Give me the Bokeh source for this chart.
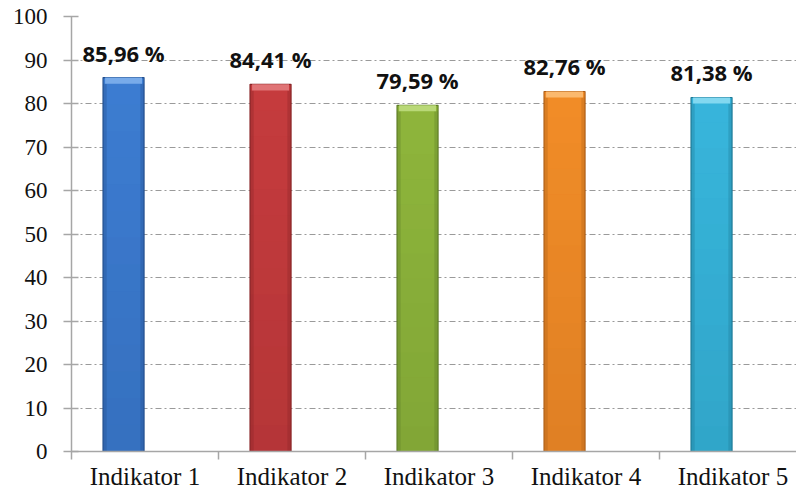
import numpy as np
from bokeh.plotting import figure
from bokeh.models import Range1d, FixedTicker, ColumnDataSource
from bokeh.core.properties import value
from bokeh.embed import file_html
from bokeh.resources import INLINE

# ---- data ----
categories = ["Indikator 1", "Indikator 2", "Indikator 3", "Indikator 4", "Indikator 5"]
values = [85.96, 84.41, 79.59, 82.76, 81.38]
value_labels = ["85,96 %", "84,41 %", "79,59 %", "82,76 %", "81,38 %"]
y_ticks = [0, 10, 20, 30, 40, 50, 60, 70, 80, 90, 100]

fill_colors = ["#3d7dd2", "#c63c3e", "#8fb63c", "#f28d28", "#38b6dc"]
dark_colors = ["#24508f", "#8a2628", "#5f7e28", "#b0601a", "#1f7c98"]
light_colors = ["#78abea", "#e07476", "#b9d877", "#fbb96e", "#82d8f0"]

SERIF = "Liberation Serif"

n = len(categories)
centers = np.arange(n) + 0.5
bar_offset = -0.146
bar_width = 0.279
xs = centers + bar_offset
vals = np.array(values)

W, H = 796, 492
p = figure(width=W, height=H, output_backend="svg", toolbar_location=None,
           x_range=Range1d(0, 4.932), y_range=Range1d(0, 100),
           min_border_left=71, min_border_right=0, min_border_top=16, min_border_bottom=30)
p.outline_line_color = None
p.background_fill_color = "white"
p.border_fill_color = "white"

# grid
p.xgrid.visible = False
p.ygrid.grid_line_color = "#9a9a9a"
p.ygrid.grid_line_dash = "6 3 2 3"
p.ygrid.grid_line_width = 1

# y axis
p.yaxis.ticker = FixedTicker(ticks=y_ticks)
p.yaxis.axis_line_color = "#a6a6a6"
p.yaxis.axis_line_width = 1.5
p.yaxis.major_tick_line_color = "#a6a6a6"
p.yaxis.major_tick_line_width = 1.5
p.yaxis.major_tick_out = 8
p.yaxis.major_tick_in = 7
p.yaxis.minor_tick_line_color = None
p.yaxis.major_label_standoff = 16
p.yaxis.major_label_text_font = SERIF
p.yaxis.major_label_text_font_size = "23px"
p.yaxis.major_label_text_color = "#111111"

# x axis
p.xaxis.ticker = FixedTicker(ticks=list(centers), minor_ticks=list(range(n + 1)))
p.xaxis.major_label_overrides = {float(c): lab for c, lab in zip(centers, categories)}
p.xaxis.axis_line_color = "#a6a6a6"
p.xaxis.axis_line_width = 1.5
p.xaxis.major_tick_line_color = None
p.xaxis.major_tick_out = 0
p.xaxis.major_tick_in = 0
p.xaxis.minor_tick_line_color = "#a6a6a6"
p.xaxis.minor_tick_line_width = 1.5
p.xaxis.minor_tick_out = 8
p.xaxis.minor_tick_in = 0
p.xaxis.major_label_standoff = 3
p.xaxis.major_label_text_font = SERIF
p.xaxis.major_label_text_font_size = "25px"
p.xaxis.major_label_text_color = "#111111"

src = ColumnDataSource(dict(x=xs, top=vals, bevel=vals - 1.4,
                            fill=fill_colors, dark=dark_colors,
                            light=light_colors, lab=value_labels))

# bars
p.vbar(x="x", top="top", bottom=0, width=bar_width, source=src,
       fill_color="fill", line_color="dark", line_width=1.2)

# soft vertical shading (darker toward the bottom)
steps = 14
gx, gb, gt, gc, ga = [], [], [], [], []
for x, v, d in zip(xs, vals, dark_colors):
    for k in range(steps):
        gx.append(x)
        gb.append(v * k / steps)
        gt.append(v * (k + 1) / steps)
        gc.append(d)
        ga.append(0.28 * (1 - (k + 0.5) / steps))
gsrc = ColumnDataSource(dict(x=gx, bottom=gb, top=gt, c=gc, a=ga))
p.vbar(x="x", top="top", bottom="bottom", width=bar_width - 0.004, source=gsrc,
       fill_color="c", fill_alpha="a", line_color=None)

# darker side edges
side = bar_width * 0.09
ssrc = ColumnDataSource(dict(xl=xs - bar_width / 2 + side / 2, xr=xs + bar_width / 2 - side / 2,
                             top=vals - 1.4, dark=dark_colors))
p.vbar(x="xl", top="top", bottom=0, width=side, source=ssrc,
       fill_color="dark", fill_alpha=0.35, line_color=None)
p.vbar(x="xr", top="top", bottom=0, width=side, source=ssrc,
       fill_color="dark", fill_alpha=0.35, line_color=None)

# top bevel highlight
p.vbar(x="x", top="top", bottom="bevel", width=bar_width * 0.9, source=src,
       fill_color="light", line_color=None)

# value labels
p.text(x="x", y="top", text="lab", source=src, text_align="center",
       text_baseline="alphabetic", y_offset=-25,
       text_font=value("Open Sans"), text_font_style="bold",
       text_font_size="22px", text_color="#111111")

open("out.html", "w").write(file_html(p, INLINE))
